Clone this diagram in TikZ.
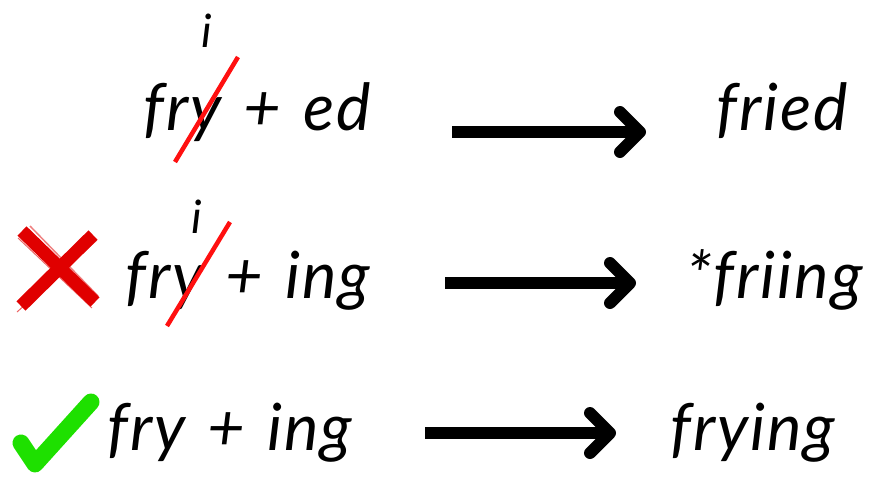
\documentclass[tikz,border=0pt]{standalone}
\usepackage{fontspec}
\setmainfont{Lato}
\newfontfamily\handfont{Lato}[WordSpace=1.3,LetterSpace=3]
\usetikzlibrary{arrows.meta}
\definecolor{crossred}{HTML}{E00000}
\definecolor{strikered}{HTML}{FF1010}
\definecolor{tickgreen}{HTML}{1EE000}

\begin{document}
\begin{tikzpicture}[x=1pt,y=-1pt,
    word/.style={anchor=base west,inner sep=0pt,
      font=\fontsize{65}{65}\handfont\itshape},
    smalli/.style={anchor=base,inner sep=0pt,
      font=\fontsize{46}{46}\handfont\itshape},
    strike/.style={strikered,line width=4.5pt},
    bigarrow/.style={line width=12pt,
      -{Straight Barb[round,length=20pt,width=40pt]}}]
\useasboundingbox (0,0) rectangle (870,483);

% fry + ed -> fried
\node[word] (lhsA) at (143,130) {fry + ed};
\node[smalli] (iA) at (207,47) {i};
\coordinate (strA1) at (175,162);
\coordinate (strA2) at (238,57);
\draw[strike] (strA1) -- (strA2);
\node[word] (rhsA) at (716,130) {fried};
\coordinate (arrA1) at (452,132);
\coordinate (arrA2) at (646,132);
\draw[bigarrow] (arrA1) -- (arrA2);

% fry + ing -> *friing (wrong)
\draw[crossred,line width=13pt] (22,231) -- (95,302);
\draw[crossred,line width=13pt] (93,235) -- (21,306);
\draw[crossred,line width=1pt,opacity=.6] (18,238) -- (92,308);
\draw[crossred,line width=1pt,opacity=.6] (97,240) -- (17,312);
\draw[crossred,line width=1.5pt,opacity=.5] (30,226) -- (98,296);
\node[word] (lhsB) at (125,298) {fry + ing};
\node[smalli] (iB) at (197,233) {i};
\coordinate (strB1) at (167,326);
\coordinate (strB2) at (230,222);
\draw[strike] (strB1) -- (strB2);
\node[word] (rhsB) at (686,298) {*friing};
\coordinate (arrB1) at (445,283);
\coordinate (arrB2) at (636,283);
\draw[bigarrow] (arrB1) -- (arrB2);

% fry + ing -> frying (right)
\draw[tickgreen,line width=17pt,line cap=round,line join=round]
  (21,443) -- (35,464) -- (91,402);
\node[word] (lhsC) at (107,450) {fry + ing};
\node[word] (rhsC) at (670,450) {frying};
\coordinate (arrC1) at (425,433);
\coordinate (arrC2) at (616,433);
\draw[bigarrow] (arrC1) -- (arrC2);
\end{tikzpicture}
\end{document}
